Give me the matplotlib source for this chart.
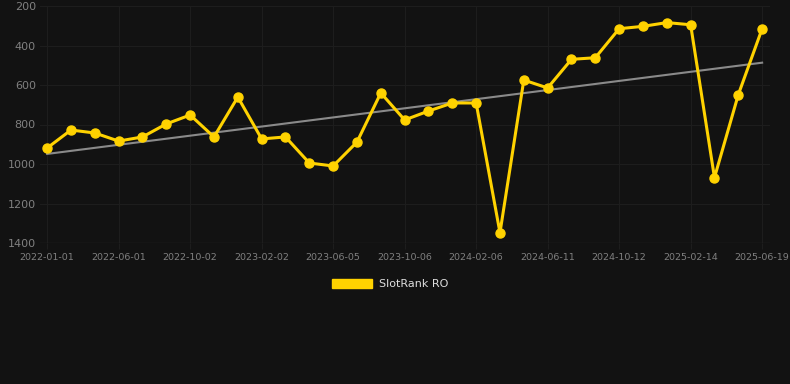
import numpy as np
from matplotlib import pyplot as plt

# rank values (lower is better, axis inverted)
ranks = [919, 828, 843, 884, 863, 797, 752, 863, 661, 873, 863, 995, 1010, 889, 640,
         777, 732, 691, 691, 1348, 575, 615, 470, 462, 315, 303, 284, 295, 1069, 649, 315]
tick_labels = ["2022-01-01", "2022-06-01", "2022-10-02", "2023-02-02", "2023-06-05", "2023-10-06",
               "2024-02-06", "2024-06-11", "2024-10-12", "2025-02-14", "2025-06-19"]
trend_ends = [949, 487]
y_ticks = [200, 400, 600, 800, 1000, 1200, 1400]

bg = "#121212"
grid_c = "#1d1d1d"
label_c = "#808080"
gold = "#FFD200"

if __name__ == "__main__":
    fig = plt.figure(figsize=(7.9, 3.84), dpi=100, facecolor=bg)
    ax = fig.add_axes([40/790, 1-243/384, 730/790, 237/384], facecolor=bg)

    x = np.arange(len(ranks))
    ax.plot([x[0], x[-1]], trend_ends, color="#8a8a8a", lw=1.5, zorder=2)
    ax.plot(x, ranks, color=gold, lw=2.2, marker="o", ms=6.5, zorder=3)

    ax.set_xlim(-0.3, len(ranks) - 1 + 0.33)
    ax.set_ylim(1400, 200)
    ax.set_yticks(y_ticks)
    ax.set_xticks(x[::3])
    ax.set_xticklabels(tick_labels)

    ax.grid(True, color=grid_c, lw=0.8)
    for s in ax.spines.values():
        s.set_visible(False)
    ax.tick_params(axis="y", length=0, labelsize=8, colors=label_c, pad=3)
    ax.tick_params(axis="x", length=4, color=grid_c, labelsize=6.8, colors=label_c, pad=3)
    ax.axhline(1400, color="#262626", lw=1)

    handle = plt.Rectangle((0, 0), 1, 1, color=gold)
    fig.legend([handle], ["SlotRank RO"], loc="center", bbox_to_anchor=(390/790, 1-284/384),
               frameon=False, fontsize=8, labelcolor="#dddddd", handlelength=3.6, handleheight=0.9,
               handletextpad=0.6)

    plt.savefig("out.png", facecolor=bg)
    plt.close()
